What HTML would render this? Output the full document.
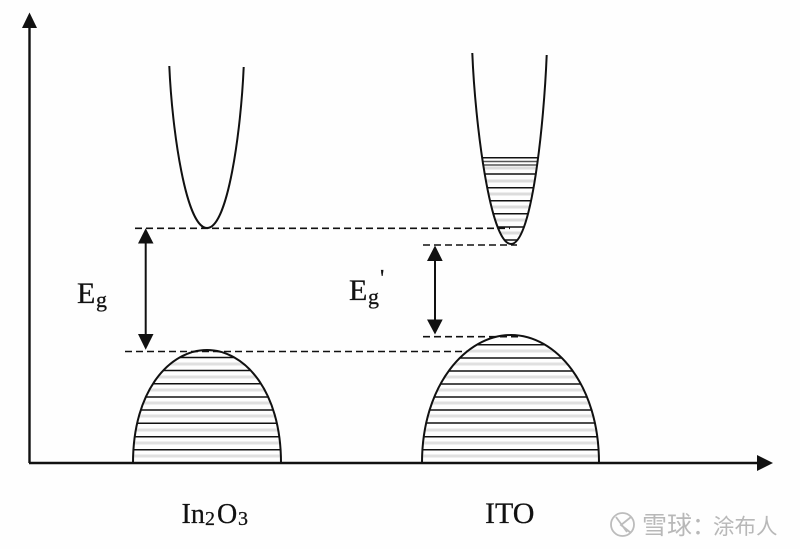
<!DOCTYPE html>
<html>
<head>
<meta charset="utf-8">
<style>
html,body{margin:0;padding:0;background:#fff;width:800px;height:549px;overflow:hidden}
svg{display:block}
text{font-family:"Liberation Serif","Noto Serif CJK SC",serif;fill:#111;stroke:#111;stroke-width:.25}
text.wm{font-family:"Liberation Sans","Noto Sans CJK SC",sans-serif;fill:#b8b8b8;stroke:none}
</style>
</head>
<body>
<svg width="800" height="549" viewBox="0 0 800 549" xmlns="http://www.w3.org/2000/svg">
<defs>
<clipPath id="cl"><path d="M133 463C133 390 170 350 207 350C244 350 281 390 281 463Z"/></clipPath>
<clipPath id="cr"><path d="M422 463C422 385 466 335 511 335C556 335 599 385 599 463Z"/></clipPath>
<clipPath id="cp"><path d="M472.3 53C475 122 490 244 511 244C532 244 544 122 546.7 55Z"/></clipPath>
</defs>
<rect width="800" height="549" fill="#fefefe"/>

<!-- soft secondary hatch -->
<g clip-path="url(#cl)" stroke="#e0e0e0" stroke-width="3" fill="none">
<path d="M133 364H281M133 377H281M133 390H281M133 403H281M133 416H281M133 430H281M133 443H281M133 456H281"/>
</g>
<g clip-path="url(#cr)" stroke="#e0e0e0" stroke-width="3" fill="none">
<path d="M422 351H599M422 364H599M422 377H599M422 390H599M422 403H599M422 416H599M422 430H599M422 443H599M422 456H599"/>
</g>
<g clip-path="url(#cp)" stroke="#dcdcdc" stroke-width="3" fill="none">
<path d="M472 168H547M472 181H547M472 194H547M472 207H547M472 220H547M472 233H547"/>
</g>

<!-- hatch -->
<g clip-path="url(#cl)" stroke="#111" stroke-width="1.5" fill="none">
<path d="M133 357.5H281M133 370.5H281M133 383.7H281M133 397H281M133 410H281M133 423.3H281M133 436.7H281M133 449.7H281"/>
</g>
<g clip-path="url(#cr)" stroke="#111" stroke-width="1.5" fill="none">
<path d="M422 344.7H599M422 358H599M422 371H599M422 384H599M422 397H599M422 410H599M422 423H599M422 436.7H599M422 449.7H599"/>
</g>
<g clip-path="url(#cp)" stroke="#111" stroke-width="1.5" fill="none">
<path d="M472 157.7H547M472 174H547M472 187.7H547M472 200.7H547M472 213.7H547M472 227H547M472 240H547"/>
</g>
<g clip-path="url(#cp)" stroke="#555" stroke-width="1.5" fill="none">
<path d="M472 161.5H547M472 165H547"/>
</g>

<!-- domes and parabolas -->
<g fill="none" stroke="#111" stroke-width="2" stroke-linejoin="round">
<path d="M133 463C133 390 170 350 207 350C244 350 281 390 281 463"/>
<path d="M422 463C422 385 466 335 511 335C556 335 599 385 599 463"/>
<path d="M169.3 66C172 130 186 228 207 228C228 228 241 130 243.7 67"/>
<path d="M472.3 53C475 122 490 244 511 244C532 244 544 122 546.7 55"/>
</g>

<!-- dashes -->
<g fill="none" stroke="#111" stroke-width="1.6" stroke-dasharray="7 4">
<path d="M135 228.3H510"/>
<path d="M125 351.5H467"/>
<path d="M423 245H517"/>
<path d="M423 336.7H520"/>
</g>

<!-- axes -->
<g stroke="#111" stroke-width="2.4" fill="none">
<path d="M29.5 463V24"/>
<path d="M29 463H760"/>
</g>
<path d="M29.5 12.5L37 28H22Z" fill="#111"/>
<path d="M773 463L757 455V471Z" fill="#111"/>

<!-- double arrows -->
<g stroke="#111" stroke-width="2" fill="none">
<path d="M145.7 240V340"/>
<path d="M435 258V322"/>
</g>
<g fill="#111">
<path d="M145.7 228.3L153.5 243.5H138Z"/>
<path d="M145.7 349.8L153.5 334H138Z"/>
<path d="M435 245.5L442.7 261H427Z"/>
<path d="M435 334.5L442.7 319.5H427Z"/>
</g>

<!-- labels -->
<text x="77" y="303" font-size="30">E</text>
<text x="96" y="307" font-size="22">g</text>
<text x="349" y="300" font-size="30">E</text>
<text x="368" y="304" font-size="22">g</text>
<text x="380" y="286" font-size="24">'</text>
<text x="181.5" y="523" font-size="28">In</text>
<text x="205" y="525" font-size="20">2</text>
<text x="217" y="523" font-size="28">O</text>
<text x="238" y="525" font-size="20">3</text>
<text x="485" y="523" font-size="30">ITO</text>

<!-- watermark -->
<g fill="none" stroke="#bcbcbc" stroke-width="1.8">
<circle cx="622.5" cy="524.5" r="11.5"/>
<path d="M616 517L627 532M631 517L621 525L631 533"/>
</g>
<text class="wm" x="642" y="534" font-size="25">雪球</text>
<text class="wm" x="692" y="534" font-size="24">：</text>
<text class="wm" x="713" y="534" font-size="21.5">涂布人</text>
</svg>
</body>
</html>
